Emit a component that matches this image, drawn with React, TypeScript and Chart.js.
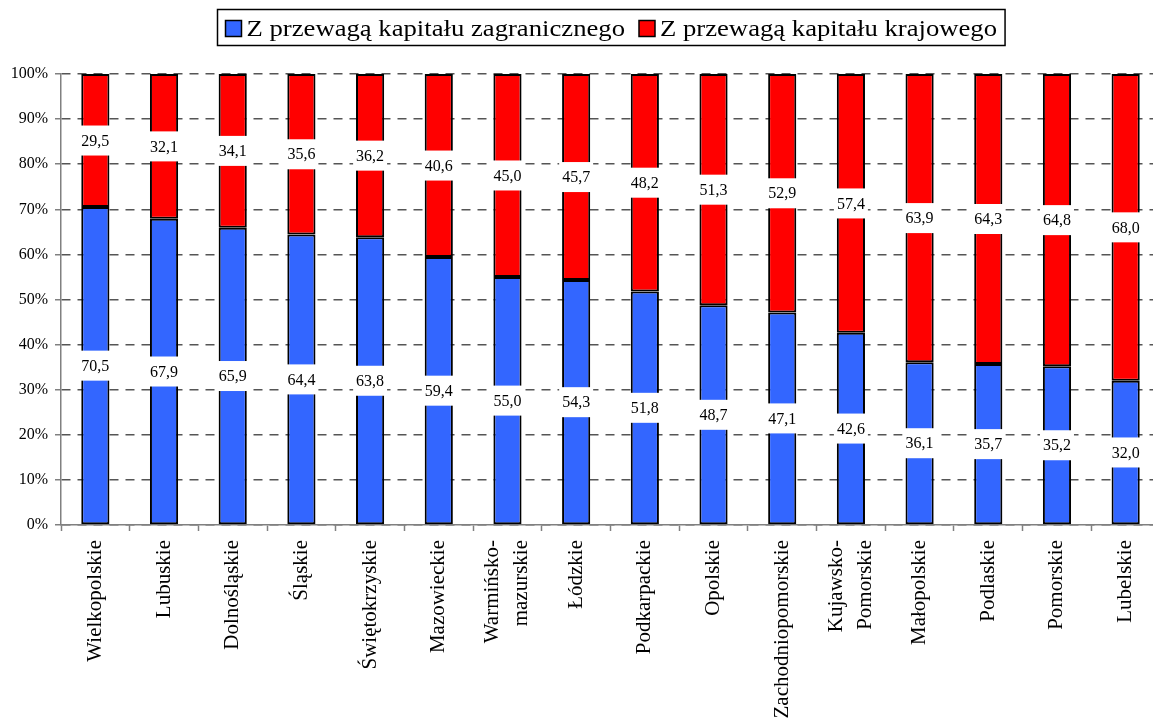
import React, { useEffect, useRef } from 'react';
import { Chart, registerables } from 'chart.js';

Chart.register(...registerables);

const categories: (string | string[])[] = [
  'Wielkopolskie',
  'Lubuskie',
  'Dolnośląskie',
  'Śląskie',
  'Świętokrzyskie',
  'Mazowieckie',
  ['Warmińsko-', 'mazurskie'],
  'Łódzkie',
  'Podkarpackie',
  'Opolskie',
  'Zachodniopomorskie',
  ['Kujawsko-', 'Pomorskie'],
  'Małopolskie',
  'Podlaskie',
  'Pomorskie',
  'Lubelskie',
];

const foreignShare = [70.5, 67.9, 65.9, 64.4, 63.8, 59.4, 55.0, 54.3, 51.8, 48.7, 47.1, 42.6, 36.1, 35.7, 35.2, 32.0];
const domesticShare = [29.5, 32.1, 34.1, 35.6, 36.2, 40.6, 45.0, 45.7, 48.2, 51.3, 52.9, 57.4, 63.9, 64.3, 64.8, 68.0];
const seriesLabels = ['Z przewagą kapitału zagranicznego', 'Z przewagą kapitału krajowego'];
const seriesColors = ['#3366FF', '#FF0000'];

const FONT = "'Liberation Serif', 'Times New Roman', serif";

export default function App() {
  const ref = useRef<HTMLCanvasElement>(null);

  useEffect(() => {
    const canvas = ref.current!;

    const valueBoxes = {
      id: 'valueBoxes',
      afterDatasetsDraw(chart: any) {
        const ctx = chart.ctx;
        ctx.save();
        ctx.font = `16px ${FONT}`;
        ctx.textAlign = 'center';
        ctx.textBaseline = 'middle';
        chart.data.datasets.forEach((ds: any, di: number) => {
          const meta = chart.getDatasetMeta(di);
          meta.data.forEach((el: any, i: number) => {
            const v = ds.data[i] as number;
            const txt = v.toFixed(1).replace('.', ',');
            const cy = (el.y + el.base) / 2;
            const w = ctx.measureText(txt).width + 6;
            ctx.fillStyle = '#ffffff';
            ctx.fillRect(el.x - w / 2, cy - 15, w, 30);
            ctx.fillStyle = '#000000';
            ctx.fillText(txt, el.x, cy + 1);
          });
        });
        ctx.restore();
      },
    };

    // centre two-line category labels around their tick
    const centreMultiline = {
      id: 'centreMultiline',
      beforeDraw(chart: any) {
        const xs = chart.scales.x;
        const items = xs.getLabelItems(chart.chartArea);
        items.forEach((it: any) => {
          if (Array.isArray(it.label) && !it._shifted) {
            it.options.translation[0] -= it.font.lineHeight / 2;
            it._shifted = true;
          }
        });
      },
    };

    const boxLegend = {
      id: 'boxLegend',
      afterDraw(chart: any) {
        const ctx = chart.ctx;
        const ca = chart.chartArea;
        const sx = 1.16;
        ctx.save();
        ctx.font = `23px ${FONT}`;
        const items = chart.data.datasets.map((d: any) => ({
          text: d.label as string,
          color: d.backgroundColor as string,
          w: ctx.measureText(d.label).width * sx,
        }));
        const padL = 8, sq = 16, gap = 5, between = 14, padR = 8;
        const total =
          padL + items.reduce((s: number, it: any) => s + sq + gap + it.w, 0) + between * (items.length - 1) + padR;
        const left = Math.round((ca.left + ca.right) / 2 - total / 2) + 0.5;
        const top = 9.5, h = 36;
        ctx.fillStyle = '#ffffff';
        ctx.fillRect(left, top, total, h);
        ctx.strokeStyle = '#000000';
        ctx.lineWidth = 1.5;
        ctx.strokeRect(left, top, total, h);
        let x = left + padL;
        items.forEach((it: any) => {
          ctx.fillStyle = it.color;
          ctx.fillRect(x, top + 11, sq, sq);
          ctx.strokeRect(x, top + 11, sq, sq);
          x += sq + gap;
          ctx.save();
          ctx.translate(x, top + 26);
          ctx.scale(sx, 1);
          ctx.fillStyle = '#000000';
          ctx.textAlign = 'left';
          ctx.textBaseline = 'alphabetic';
          ctx.fillText(it.text, 0, 0);
          ctx.restore();
          x += it.w + between;
        });
        ctx.restore();
      },
    };

    const chart = new Chart(canvas, {
      type: 'bar',
      data: {
        labels: categories as any,
        datasets: [
          {
            label: seriesLabels[0],
            data: foreignShare,
            backgroundColor: seriesColors[0],
            borderColor: '#000000',
            borderWidth: 2,
            borderSkipped: false,
          },
          {
            label: seriesLabels[1],
            data: domesticShare,
            backgroundColor: seriesColors[1],
            borderColor: '#000000',
            borderWidth: 2,
            borderSkipped: false,
          },
        ],
      },
      options: {
        animation: false,
        responsive: false,
        layout: { padding: { top: 74, left: 0, right: 0, bottom: 0 } },
        plugins: { legend: { display: false }, tooltip: { enabled: false } },
        datasets: { bar: { categoryPercentage: 1, barPercentage: 0.41 } },
        scales: {
          x: {
            stacked: true,
            grid: {
              display: true,
              drawOnChartArea: false,
              drawTicks: true,
              tickLength: 6,
              tickColor: '#808080',
              tickWidth: 1.5,
              offset: true,
            },
            border: { color: '#808080', width: 1.5 },
            ticks: {
              color: '#000000',
              font: (c: any) => {
                const lbl = c.chart.data.labels[c.index];
                return { family: FONT, size: 21, lineHeight: Array.isArray(lbl) ? 1.38 : 1.2 };
              },
              minRotation: 90,
              maxRotation: 90,
              padding: 9,
              autoSkip: false,
            },
            afterFit: (s: any) => {
              s.height = 722 - 525;
            },
          },
          y: {
            stacked: true,
            min: 0,
            max: 100,
            ticks: {
              stepSize: 10,
              callback: (v: any) => v + '%',
              color: '#000000',
              font: { family: FONT, size: 16 },
              padding: 7,
            },
            grid: {
              color: '#555555',
              lineWidth: 1.5,
              tickLength: 6,
              tickColor: '#808080',
              tickWidth: 1.5,
              tickBorderDash: [],
            },
            border: { dash: [9, 7], color: '#808080', width: 1.5 },
            afterFit: (s: any) => {
              s.width = 61;
            },
          },
        },
      } as any,
      plugins: [centreMultiline, valueBoxes, boxLegend],
    });

    return () => chart.destroy();
  }, []);

  return (
    <div style={{ position: 'fixed', left: 0, top: 0, width: 1153, height: 722, overflow: 'hidden', background: '#fff' }}>
      <canvas ref={ref} width={1160} height={722} style={{ display: 'block' }} />
    </div>
  );
}
